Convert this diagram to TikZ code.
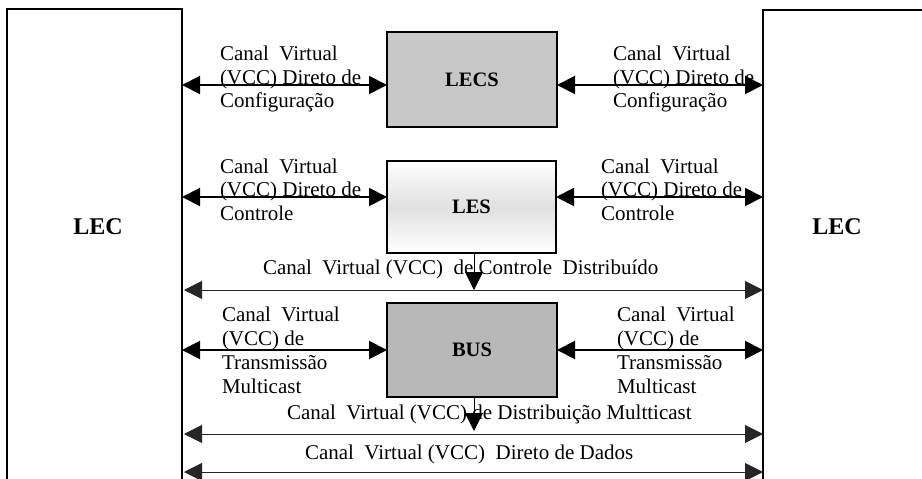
\documentclass[tikz,border=0pt]{standalone}
\usepackage{fontspec}
\setmainfont{Liberation Serif}
\usetikzlibrary{arrows.meta}
\begin{document}
\begin{tikzpicture}[x=1pt,y=-1pt,
  every node/.style={inner sep=0pt, outer sep=0pt},
  lbl/.style={font=\fontsize{21}{23.5}\selectfont, align=left, anchor=north west},
  lblwide/.style={font=\fontsize{21}{24}\selectfont, align=left, anchor=north west},
  chan/.style={font=\fontsize{21}{23.5}\selectfont, anchor=base west},
  title/.style={font=\fontsize{20.5}{24}\selectfont\bfseries},
  bigtitle/.style={font=\fontsize{24}{28}\selectfont\bfseries},
  frame/.style={draw=black, line width=1.8pt, rectangle},
  bigtip/.tip={Triangle[length=18pt,width=18pt]},
  heavy/.style={line width=2pt, bigtip-bigtip},
  light/.style={line width=1pt, draw=black!85, bigtip-bigtip},
  drop/.style={line width=1pt, -bigtip}
]
\useasboundingbox (0,0) rectangle (922,479);
\fill[white] (0,0) rectangle (922,479);

% LAN emulation clients at both sides
\node[frame, fill=white, minimum width=175pt, minimum height=521pt] (lecL) at (94.5,269.5) {};
\node[frame, fill=white, minimum width=237pt, minimum height=520pt] (lecR) at (881.5,270) {};
\node[bigtitle] (lecLtxt) at (98,227) {LEC};
\node[bigtitle] (lecRtxt) at (837,227) {LEC};

% servers
\node[frame, fill=black!22, minimum width=170pt, minimum height=95pt] (lecs) at (472,79.5) {};
\node[title] at (lecs) {LECS};
\node[frame, top color=white, bottom color=white, middle color=black!12, minimum width=169pt, minimum height=92pt] (les) at (471.5,207) {};
\node[title] at (les) {LES};
\node[frame, fill=black!28, minimum width=170pt, minimum height=94pt] (bus) at (472,350) {};
\node[title] at (bus) {BUS};

% channel rows
\coordinate (r1) at (0,85);
\coordinate (r2) at (0,197);
\coordinate (r3) at (0,350);
\coordinate (dist) at (474,290);
\coordinate (mcast) at (474,434);
\coordinate (data) at (474,472);

\draw[heavy] (lecL.east |- r1) -- (lecs.west |- r1);
\draw[heavy] (lecs.east |- r1) -- (lecR.west |- r1);
\draw[heavy] (lecL.east |- r2) -- (les.west |- r2);
\draw[heavy] (les.east |- r2) -- (lecR.west |- r2);
\draw[heavy] (lecL.east |- r3) -- (bus.west |- r3);
\draw[heavy] (bus.east |- r3) -- (lecR.west |- r3);

\draw[light] ([xshift=2pt]lecL.east |- dist) -- (lecR.west |- dist);
\draw[drop] (dist |- les.south) -- (dist);
\draw[light] ([xshift=2pt]lecL.east |- mcast) -- (lecR.west |- mcast);
\draw[drop] (mcast |- bus.south) -- ([yshift=3pt]mcast);
\draw[light] ([xshift=2pt]lecL.east |- data) -- (lecR.west |- data);

% channel labels
\node[lbl] (t1l) at (220,46) {Canal\ \ Virtual\\(VCC) Direto de\\Configuração};
\node[lbl] (t1r) at (613,46) {Canal\ \ Virtual\\(VCC) Direto de\\Configuração};
\node[lbl] (t2l) at (220,158.5) {Canal\ \ Virtual\\(VCC) Direto de\\Controle};
\node[lbl] (t2r) at (601,158.5) {Canal\ \ Virtual\\(VCC) Direto de\\Controle};
\node[lblwide] (t3l) at (222,306.5) {Canal\ \ Virtual\\(VCC) de\\Transmissão\\Multicast};
\node[lblwide] (t3r) at (617,306.5) {Canal\ \ Virtual\\(VCC) de\\Transmissão\\Multicast};
\node[chan] (tdist) at (263,274.5) {Canal\ \ Virtual (VCC)\ \ de Controle\ \ Distribuído};
\node[chan] (tmcast) at (287,419.5) {Canal\ \ Virtual (VCC) de Distribuição Multticast};
\node[chan] (tdata) at (305,459.5) {Canal\ \ Virtual (VCC)\ \ Direto de Dados};
\end{tikzpicture}
\end{document}
